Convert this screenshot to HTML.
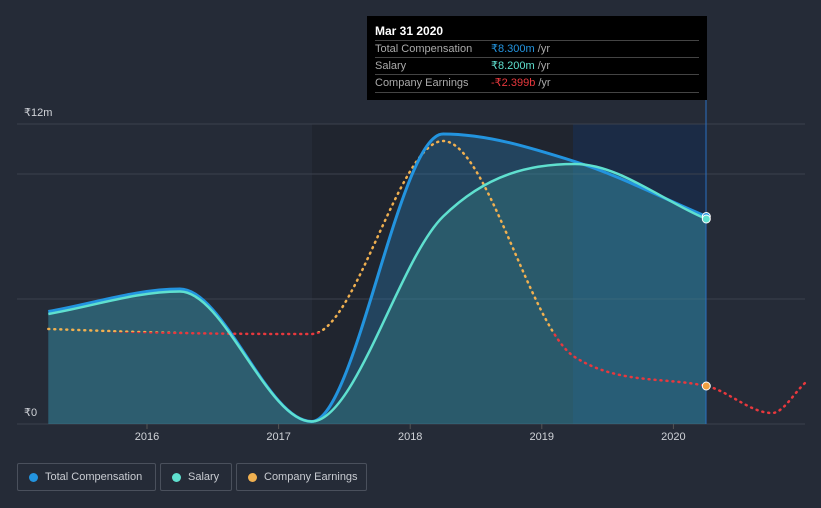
<!DOCTYPE html>
<html><head><meta charset="utf-8"><style>
body{margin:0;background:#252b37;font-family:"Liberation Sans",sans-serif;}
#wrap{position:relative;width:821px;height:508px;overflow:hidden;}
.leg{position:absolute;top:463px;height:28px;border:1px solid #4a505c;border-radius:2px;color:#c9ccd2;font-size:11px;line-height:27px;box-sizing:border-box;padding-left:27px;white-space:nowrap}
.leg i{position:absolute;left:11px;top:9px;width:9px;height:9px;border-radius:50%}
#tip{position:absolute;left:367px;top:16px;width:340px;height:84px;background:#000;color:#aaa;font-size:11px}
#tip .r{position:absolute;left:8px;width:324px;border-top:1px solid #444;height:17px;line-height:17px}
</style></head><body>
<div id="wrap">
<svg id="svg" width="821" height="508"></svg>
<div id="tip">
<div style="position:absolute;left:8px;top:8px;color:#fff;font-weight:bold;font-size:12px">Mar 31 2020</div>
<div class="r" style="top:24px">Total Compensation<span style="position:absolute;left:116px"><b style="color:#2394df;font-weight:normal">₹8.300m</b> /yr</span></div>
<div class="r" style="top:41px">Salary<span style="position:absolute;left:116px"><b style="color:#5fe0cf;font-weight:normal">₹8.200m</b> /yr</span></div>
<div class="r" style="top:58px;border-bottom:1px solid #444">Company Earnings<span style="position:absolute;left:116px"><b style="color:#e8383d;font-weight:normal">-₹2.399b</b> /yr</span></div>
</div>
<div class="leg" style="left:17px;width:139px"><i style="background:#2394df"></i>Total Compensation</div>
<div class="leg" style="left:160px;width:72px"><i style="background:#5fe0cf"></i>Salary</div>
<div class="leg" style="left:236px;width:131px"><i style="background:#f0b050"></i>Company Earnings</div>
</div>
<script>
const years=[2015.25,2016.25,2017.25,2018.25,2019.25,2020.25];
const totalComp=[4.5,5.4,0.1,11.6,10.5,8.3];
const salary=[4.4,5.3,0.1,8.3,10.4,8.2];
const earnYears=[2015.25,2016.25,2017.25,2018.25,2019.25,2020.25,2020.75,2021.0];
const earnings=[-0.12,-0.28,-0.32,7.4,-1.24,-2.399,-3.48,-2.28];
const yTicks=[0,5,10,12];
const xTicks=[2016,2017,2018,2019,2020];
const NS="http://www.w3.org/2000/svg",svg=document.getElementById('svg');
const X=t=>147+(t-2016)*131.6, Y=v=>424-v*25, YE=v=>386-(v+2.399)*25;
function el(n,a,p){const e=document.createElementNS(NS,n);for(const k in a)e.setAttribute(k,a[k]);(p||svg).appendChild(e);return e;}
function mono(xs,ys){const n=xs.length,d=[],m=[];for(let i=0;i<n-1;i++)d.push((ys[i+1]-ys[i])/(xs[i+1]-xs[i]));
for(let i=0;i<n;i++){if(i==0)m.push(d[0]);else if(i==n-1)m.push(d[n-2]);else m.push(d[i-1]*d[i]<=0?0:(d[i-1]+d[i])/2);}
for(let i=0;i<n-1;i++){if(d[i]==0){m[i]=m[i+1]=0;continue;}const a=m[i]/d[i],b=m[i+1]/d[i],s=a*a+b*b;if(s>9){const t=3/Math.sqrt(s);m[i]=t*a*d[i];m[i+1]=t*b*d[i];}}
let p='M'+xs[0]+','+ys[0];for(let i=0;i<n-1;i++){const h=(xs[i+1]-xs[i])/3;p+=' C'+(xs[i]+h)+','+(ys[i]+m[i]*h)+' '+(xs[i+1]-h)+','+(ys[i+1]-m[i+1]*h)+' '+xs[i+1]+','+ys[i+1];}return p;}
el('rect',{x:312,y:124,width:261,height:300,fill:'#20252f'});
el('rect',{x:573,y:124,width:133,height:300,fill:'#1b2b45'});
yTicks.forEach(v=>{const g=el('line',{x1:17,x2:805,y1:Y(v),y2:Y(v),stroke:'#3b414d'});});
[0,12].forEach(v=>{const t=el('text',{x:24,y:Y(v)-8,fill:'#d0d3d8','font-size':11});t.textContent=v?'₹'+v+'m':'₹0';});
xTicks.forEach(t=>{el('line',{x1:X(t),x2:X(t),y1:424,y2:429,stroke:'#555'});const e=el('text',{x:X(t),y:440,fill:'#d0d3d8','font-size':11,'text-anchor':'middle'});e.textContent=t;});
const xs=years.map(X);
const tp=mono(xs,totalComp.map(Y)),sp=mono(xs,salary.map(Y));
const close=' L'+xs[xs.length-1]+',424 L'+xs[0]+',424 Z';
let a=el('path',{d:tp+close,fill:'#2a7fb8','fill-opacity':0.35});
a=el('path',{d:sp+close,fill:'#3a8f8a','fill-opacity':0.3});
const defs=el('defs',{});el('rect',{x:0,y:0,width:821,height:332},el('clipPath',{id:'cu'},defs));el('rect',{x:0,y:332,width:821,height:200},el('clipPath',{id:'cd'},defs));
const ep=mono(earnYears.map(X),earnings.map(YE));
let l=el('path',{d:ep,fill:'none',stroke:'#f0b050','stroke-width':2.5,'stroke-dasharray':'1 5','stroke-linecap':'round','clip-path':'url(#cu)'});
l=el('path',{d:ep,fill:'none',stroke:'#e8383d','stroke-width':2.5,'stroke-dasharray':'1 5','stroke-linecap':'round','clip-path':'url(#cd)'});
l=el('path',{d:tp,fill:'none',stroke:'#2394df','stroke-width':3});
l=el('path',{d:sp,fill:'none',stroke:'#5fe0cf','stroke-width':2.5});
el('line',{x1:706,x2:706,y1:100,y2:424,stroke:'#2a6fc0'});
const li=years.length-1;
el('circle',{cx:X(years[li]),cy:Y(totalComp[li]),r:4,fill:'#2394df',stroke:'#fff'});
el('circle',{cx:X(years[li]),cy:Y(salary[li]),r:4,fill:'#5fe0cf',stroke:'#fff'});
el('circle',{cx:X(2020.25),cy:YE(earnings[5]),r:4,fill:'#f0a040',stroke:'#fff'});
</script></body></html>
